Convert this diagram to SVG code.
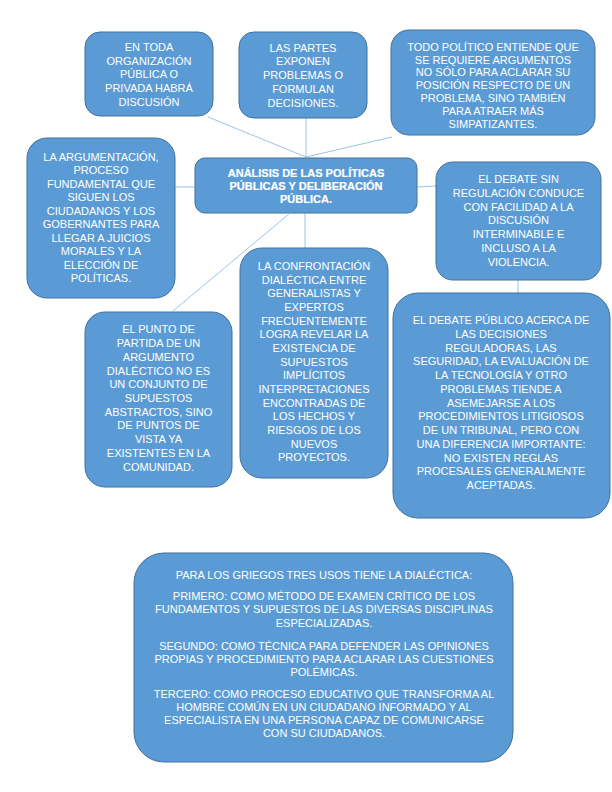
<svg xmlns="http://www.w3.org/2000/svg" width="612" height="792" viewBox="0 0 612 792">
<style>
.box{fill:#5B9BD5;stroke:#41719C;stroke-width:1}
.t{font-family:"Liberation Sans",Arial,sans-serif;font-size:11px;fill:#FFFFFF;text-anchor:middle}
.b{font-weight:bold;stroke:#FFFFFF;stroke-width:0.2}
.c{stroke:#9DC3E6;stroke-width:1;fill:none}
</style>
<rect width="612" height="792" fill="#FFFFFF"/>
<g id="connectors">
<line class="c" x1="208" y1="117" x2="306" y2="157"/>
<line class="c" x1="306" y1="118" x2="306" y2="157"/>
<line class="c" x1="392" y1="137" x2="306" y2="157"/>
<line class="c" x1="175" y1="187" x2="195" y2="187"/>
<line class="c" x1="417" y1="187" x2="436" y2="186"/>
<line class="c" x1="305" y1="213" x2="305" y2="248"/>
<line class="c" x1="289" y1="214" x2="173" y2="311"/>
<line class="c" x1="518" y1="280" x2="518" y2="293"/>
</g>
<g id="n1">
<rect class="box" x="85" y="32" width="128" height="84" rx="15"/>
<text class="t"><tspan x="149" y="51">EN TODA</tspan><tspan x="149" y="64.5">ORGANIZACIÓN</tspan><tspan x="149" y="78.3">PÚBLICA O</tspan><tspan x="149" y="92">PRIVADA HABRÁ</tspan><tspan x="149" y="105.8">DISCUSIÓN</tspan></text>
</g>
<g id="n2">
<rect class="box" x="239" y="32" width="128" height="86" rx="15"/>
<text class="t"><tspan x="303" y="51.5">LAS PARTES</tspan><tspan x="303" y="65.3">EXPONEN</tspan><tspan x="303" y="79">PROBLEMAS O</tspan><tspan x="303" y="92.8">FORMULAN</tspan><tspan x="303" y="106.5">DECISIONES.</tspan></text>
</g>
<g id="n3">
<rect class="box" x="391" y="30" width="204" height="105" rx="18"/>
<text class="t"><tspan x="493" y="50.7">TODO POLÍTICO ENTIENDE QUE</tspan><tspan x="493" y="63.5">SE REQUIERE ARGUMENTOS</tspan><tspan x="493" y="76.3">NO SÓLO PARA ACLARAR SU</tspan><tspan x="493" y="89.1">POSICIÓN RESPECTO DE UN</tspan><tspan x="493" y="101.9">PROBLEMA, SINO TAMBIÉN</tspan><tspan x="493" y="114.7">PARA ATRAER  MÁS</tspan><tspan x="493" y="127.5">SIMPATIZANTES.</tspan></text>
</g>
<g id="center">
<rect class="box" x="195" y="158" width="222" height="55" rx="10"/>
<text class="t b"><tspan x="306" y="176.7">ANÁLISIS DE LAS POLÍTICAS</tspan><tspan x="306" y="190">PÚBLICAS Y DELIBERACIÓN</tspan><tspan x="306" y="203.3">PÚBLICA.</tspan></text>
</g>
<g id="n4">
<rect class="box" x="27" y="138" width="148" height="160" rx="20"/>
<text class="t"><tspan x="101" y="160.6">LA ARGUMENTACIÓN,</tspan><tspan x="101" y="174.1">PROCESO</tspan><tspan x="101" y="187.6">FUNDAMENTAL QUE</tspan><tspan x="101" y="201.1">SIGUEN LOS</tspan><tspan x="101" y="214.6">CIUDADANOS Y LOS</tspan><tspan x="101" y="228.1">GOBERNANTES PARA</tspan><tspan x="101" y="241.6">LLEGAR A JUICIOS</tspan><tspan x="101" y="255.1">MORALES Y LA</tspan><tspan x="101" y="268.6">ELECCIÓN DE</tspan><tspan x="101" y="282.1">POLÍTICAS.</tspan></text>
</g>
<g id="n5">
<rect class="box" x="436" y="162" width="165" height="118" rx="17"/>
<text class="t"><tspan x="518.5" y="183.3">EL DEBATE SIN</tspan><tspan x="518.5" y="197">REGULACIÓN CONDUCE</tspan><tspan x="518.5" y="210.7">CON FACILIDAD A LA</tspan><tspan x="518.5" y="224.4">DISCUSIÓN</tspan><tspan x="518.5" y="238.1">INTERMINABLE E</tspan><tspan x="518.5" y="251.8">INCLUSO A LA</tspan><tspan x="518.5" y="265.5">VIOLENCIA.</tspan></text>
</g>
<g id="n6">
<rect class="box" x="85" y="312" width="147" height="175" rx="20"/>
<text class="t"><tspan x="158.5" y="333.3">EL PUNTO DE</tspan><tspan x="158.5" y="347">PARTIDA DE UN</tspan><tspan x="158.5" y="360.8">ARGUMENTO</tspan><tspan x="158.5" y="374.5">DIALÉCTICO NO ES</tspan><tspan x="158.5" y="388.2">UN CONJUNTO DE</tspan><tspan x="158.5" y="401.9">SUPUESTOS</tspan><tspan x="158.5" y="415.7">ABSTRACTOS, SINO</tspan><tspan x="158.5" y="429.4">DE PUNTOS DE</tspan><tspan x="158.5" y="443.1">VISTA YA</tspan><tspan x="158.5" y="456.9">EXISTENTES EN LA</tspan><tspan x="158.5" y="470.6">COMUNIDAD.</tspan></text>
</g>
<g id="n7">
<rect class="box" x="240" y="248" width="148" height="230" rx="22"/>
<text class="t"><tspan x="314" y="270">LA CONFRONTACIÓN</tspan><tspan x="314" y="283.7">DIALÉCTICA ENTRE</tspan><tspan x="314" y="297.3">GENERALISTAS Y</tspan><tspan x="314" y="311">EXPERTOS</tspan><tspan x="314" y="324.6">FRECUENTEMENTE</tspan><tspan x="314" y="338.3">LOGRA REVELAR LA</tspan><tspan x="314" y="352">EXISTENCIA DE</tspan><tspan x="314" y="365.6">SUPUESTOS</tspan><tspan x="314" y="379.3">IMPLÍCITOS</tspan><tspan x="314" y="392.9">INTERPRETACIONES</tspan><tspan x="314" y="406.6">ENCONTRADAS DE</tspan><tspan x="314" y="420.3">LOS HECHOS Y</tspan><tspan x="314" y="433.9">RIESGOS DE LOS</tspan><tspan x="314" y="447.6">NUEVOS</tspan><tspan x="314" y="461.2">PROYECTOS.</tspan></text>
</g>
<g id="n8">
<rect class="box" x="393" y="293" width="217" height="225" rx="25"/>
<text class="t"><tspan x="501" y="324">EL DEBATE PÚBLICO ACERCA DE</tspan><tspan x="501" y="337.8">LAS DECISIONES</tspan><tspan x="501" y="351.5">REGULADORAS, LAS</tspan><tspan x="501" y="365.3">SEGURIDAD, LA EVALUACIÓN DE</tspan><tspan x="501" y="379">LA TECNOLOGÍA Y OTRO</tspan><tspan x="501" y="392.8">PROBLEMAS TIENDE A</tspan><tspan x="501" y="406.5">ASEMEJARSE A LOS</tspan><tspan x="501" y="420.3">PROCEDIMIENTOS LITIGIOSOS</tspan><tspan x="501" y="434">DE UN TRIBUNAL, PERO CON</tspan><tspan x="501" y="447.8">UNA DIFERENCIA IMPORTANTE:</tspan><tspan x="501" y="461.5">NO EXISTEN REGLAS</tspan><tspan x="501" y="475.3">PROCESALES GENERALMENTE</tspan><tspan x="501" y="489">ACEPTADAS.</tspan></text>
</g>
<g id="n9">
<rect class="box" x="134" y="553" width="379" height="209" rx="30"/>
<text class="t"><tspan x="324" y="579">PARA LOS GRIEGOS TRES USOS TIENE LA DIALÉCTICA:</tspan><tspan x="324" y="599.7">PRIMERO: COMO MÉTODO DE EXAMEN CRÍTICO DE LOS</tspan><tspan x="324" y="613.2">FUNDAMENTOS Y SUPUESTOS DE LAS DIVERSAS DISCIPLINAS</tspan><tspan x="324" y="626.7">ESPECIALIZADAS.</tspan><tspan x="324" y="649.7">SEGUNDO: COMO TÉCNICA PARA DEFENDER LAS OPINIONES</tspan><tspan x="324" y="663">PROPIAS Y PROCEDIMIENTO PARA ACLARAR LAS CUESTIONES</tspan><tspan x="324" y="676.3">POLÉMICAS.</tspan><tspan x="324" y="698">TERCERO: COMO PROCESO EDUCATIVO QUE TRANSFORMA AL</tspan><tspan x="324" y="711">HOMBRE COMÚN EN UN CIUDADANO INFORMADO Y AL</tspan><tspan x="324" y="724">ESPECIALISTA EN UNA PERSONA CAPAZ DE COMUNICARSE</tspan><tspan x="324" y="737.3">CON SU CIUDADANOS.</tspan></text>
</g>
</svg>
